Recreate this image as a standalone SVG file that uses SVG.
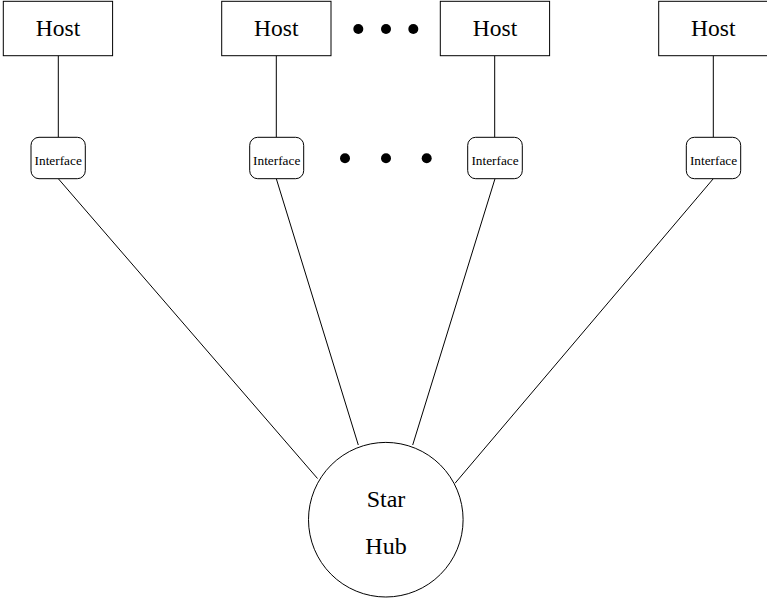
<svg xmlns="http://www.w3.org/2000/svg" width="767" height="599" viewBox="0 0 767 599">
  <defs>
    <style>
      .box { fill: #ffffff; stroke: #000000; stroke-width: 1; }
      .iface { fill: #ffffff; stroke: #000000; stroke-width: 1; }
      .link { stroke: #000000; stroke-width: 1; fill: none; }
      .dot { fill: #000000; }
      text { font-family: 'Liberation Serif', 'DejaVu Serif', serif; fill: #000000; text-anchor: middle; }
      .host-label { font-size: 23.5px; }
      .iface-label { font-size: 13.3px; }
      .hub-label { font-size: 24px; }
    </style>
  </defs>
  <rect width="767" height="599" fill="#ffffff"/>

  <!-- connectors: host to interface, interface to hub -->
  <g id="connectors">
    <line class="link" x1="58.3" y1="55.7" x2="58.3" y2="137.3"/>
    <line class="link" x1="276.3" y1="55.7" x2="276.3" y2="137.3"/>
    <line class="link" x1="494.7" y1="55.7" x2="494.7" y2="137.3"/>
    <line class="link" x1="713.3" y1="55.7" x2="713.3" y2="137.3"/>
    <line class="link" x1="58.3" y1="178.7" x2="317.5" y2="478.5"/>
    <line class="link" x1="276.3" y1="178.7" x2="358.3" y2="445"/>
    <line class="link" x1="495" y1="178.7" x2="412.7" y2="445"/>
    <line class="link" x1="713.3" y1="178.7" x2="455" y2="483.3"/>
  </g>

  <!-- hosts -->
  <g id="host-1">
    <rect class="box" x="3.3" y="1.3" width="109.3" height="54.4"/>
    <text class="host-label" x="58" y="36" font-family="Liberation Serif, serif">Host</text>
  </g>
  <g id="host-2">
    <rect class="box" x="221.7" y="1.3" width="109.3" height="54.4"/>
    <text class="host-label" x="276.3" y="36" font-family="Liberation Serif, serif">Host</text>
  </g>
  <g id="host-3">
    <rect class="box" x="440.3" y="1.3" width="109.3" height="54.4"/>
    <text class="host-label" x="495" y="36" font-family="Liberation Serif, serif">Host</text>
  </g>
  <g id="host-4">
    <rect class="box" x="658.7" y="1.3" width="109.3" height="54.4"/>
    <text class="host-label" x="713.3" y="36" font-family="Liberation Serif, serif">Host</text>
  </g>

  <!-- interfaces -->
  <g id="interface-1">
    <rect class="iface" x="31" y="137.3" width="54.3" height="41.4" rx="8" ry="8"/>
    <text class="iface-label" x="58.2" y="165" font-family="Liberation Serif, serif">Interface</text>
  </g>
  <g id="interface-2">
    <rect class="iface" x="249.7" y="137.3" width="54" height="41.4" rx="8" ry="8"/>
    <text class="iface-label" x="276.7" y="165" font-family="Liberation Serif, serif">Interface</text>
  </g>
  <g id="interface-3">
    <rect class="iface" x="467.7" y="137.3" width="54.6" height="41.4" rx="8" ry="8"/>
    <text class="iface-label" x="495" y="165" font-family="Liberation Serif, serif">Interface</text>
  </g>
  <g id="interface-4">
    <rect class="iface" x="686.3" y="137.3" width="54.4" height="41.4" rx="8" ry="8"/>
    <text class="iface-label" x="713.5" y="165" font-family="Liberation Serif, serif">Interface</text>
  </g>

  <!-- ellipsis markers -->
  <g id="ellipsis-hosts">
    <circle class="dot" cx="358.3" cy="29" r="5"/>
    <circle class="dot" cx="386" cy="29" r="5"/>
    <circle class="dot" cx="413.3" cy="29" r="5"/>
  </g>
  <g id="ellipsis-interfaces">
    <circle class="dot" cx="345" cy="158.3" r="5"/>
    <circle class="dot" cx="386" cy="158.3" r="5"/>
    <circle class="dot" cx="426.7" cy="158.3" r="5"/>
  </g>

  <!-- hub -->
  <g id="star-hub">
    <circle class="box" cx="385.8" cy="519.7" r="77.3"/>
    <text class="hub-label" x="386" y="507" font-family="Liberation Serif, serif">Star</text>
    <text class="hub-label" x="386" y="554" font-family="Liberation Serif, serif">Hub</text>
  </g>
</svg>
